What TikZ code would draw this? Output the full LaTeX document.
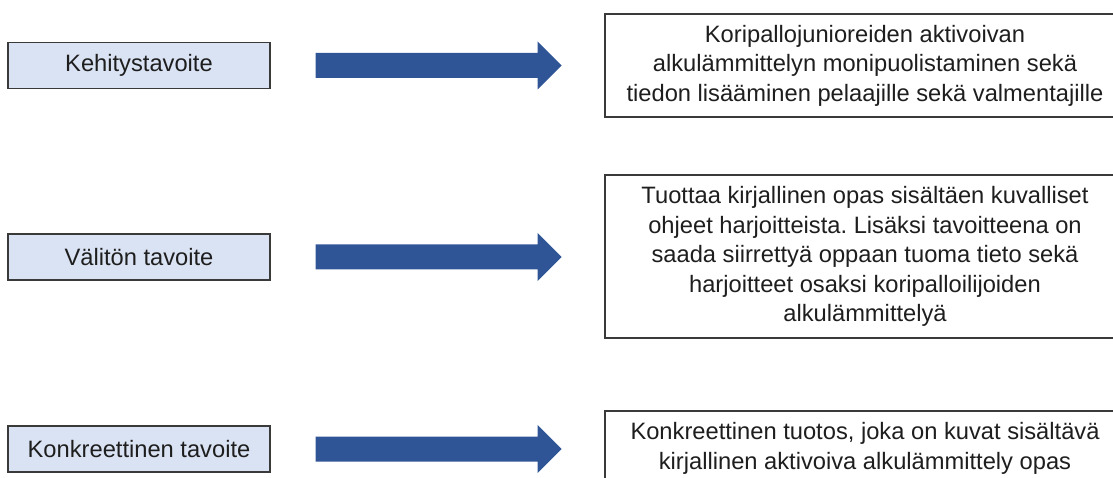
\documentclass[tikz,border=0pt]{standalone}
\usepackage{fontspec}
\setmainfont{Liberation Sans}
\frenchspacing
\usetikzlibrary{calc}
\definecolor{boxfill}{HTML}{DAE3F3}
\definecolor{boxline}{HTML}{3A3A3A}
\definecolor{arrowblue}{HTML}{2F5597}
\definecolor{txt}{HTML}{1E1E1E}
\tikzset{
  goalbox/.style={draw=boxline, line width=1.4pt, fill=boxfill, minimum width=262pt, minimum height=46pt, inner sep=0pt, text=txt, font=\fontsize{23.7}{29.5}\selectfont},
  descbox/.style={draw=boxline, line width=1.2pt, fill=white, minimum width=520pt, inner sep=0pt, align=center, text=txt, font=\fontsize{23.7}{29.5}\selectfont},
  blockarrow/.style={fill=arrowblue}
}
\begin{document}
\begin{tikzpicture}[x=1pt,y=-1pt]
\useasboundingbox (0,0) rectangle (1113,478);
\node[goalbox] (k1) at (139,65.5) {Kehitystavoite};
\node[goalbox] (k2) at (139,257) {Välitön tavoite};
\node[goalbox] (k3) at (139,449) {Konkreettinen tavoite};
\node[descbox, minimum height=103pt] (d1) at (865,65.5) {Koripallojunioreiden aktivoivan\\alkulämmittelyn monipuolistaminen sekä\\tiedon lisääminen pelaajille sekä valmentajille};
\node[descbox, minimum height=163pt] (d2) at (865,256.5) {Tuottaa kirjallinen opas sisältäen kuvalliset\\ohjeet harjoitteista. Lisäksi tavoitteena on\\saada siirrettyä oppaan tuoma tieto sekä\\harjoitteet osaksi koripalloilijoiden\\alkulämmittelyä};
\node[descbox, minimum height=75pt] (d3) at (865,448.5) {Konkreettinen tuotos, joka on kuvat sisältävä\\kirjallinen aktivoiva alkulämmittely opas};
\foreach \k in {1,2,3}{
  \fill[blockarrow] ($(k\k.east)+(45,-12.5)$) -- ++(222,0) -- ++(0,-11.5) -- ++(24,24) -- ++(-24,24) -- ++(0,-11.5) -- ++(-222,0) -- cycle;
}
\end{tikzpicture}
\end{document}
